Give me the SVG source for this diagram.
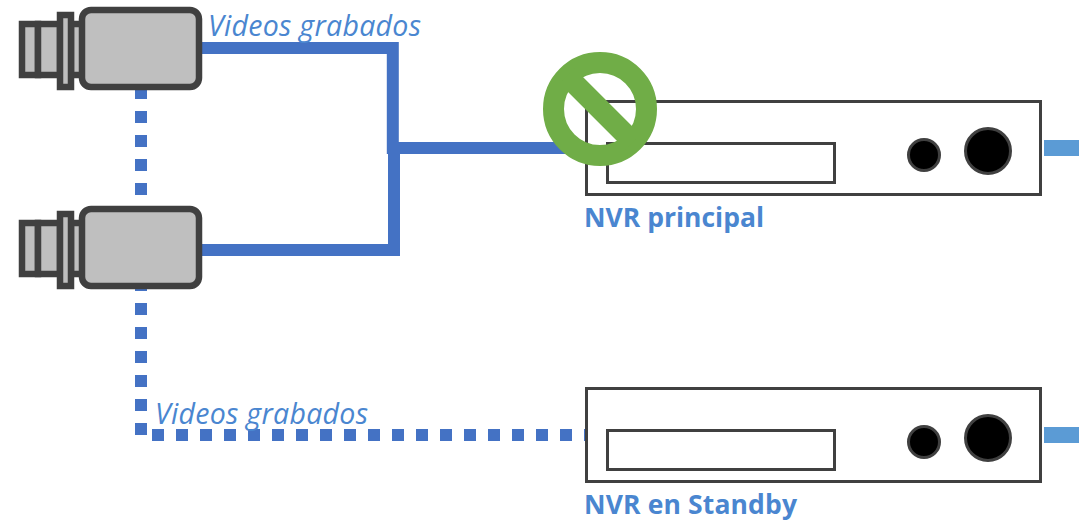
<svg xmlns="http://www.w3.org/2000/svg" width="1079" height="520" viewBox="0 0 1079 520">
<style>
.cam{fill:#bfbfbf;stroke:#404040;stroke-width:6.5}
.nvr{fill:#fff;stroke:#404040;stroke-width:3}
.knob{fill:#000;stroke:#404040;stroke-width:3}
.solid{fill:none;stroke:#4472c4;stroke-width:12}
.dot{fill:none;stroke:#4472c4;stroke-width:12;stroke-dasharray:12 12}
.out{fill:#5b9bd5}
.lbl{font-family:"Open Sans","Noto Sans",sans-serif;font-style:italic;font-size:28.500px;fill:#4a86d0}
.name{font-family:"Open Sans","Noto Sans",sans-serif;font-weight:700;font-size:26.500px;fill:#4a86d0}
</style>
<defs>
<g id="camera">
<rect class="cam" x="22" y="24" width="16" height="51"/>
<rect class="cam" x="38" y="24" width="22" height="51"/>
<rect class="cam" x="71" y="24" width="14" height="51"/>
<rect class="cam" x="60" y="15" width="11" height="72"/>
<rect class="cam" x="82" y="10" width="117" height="77" rx="9"/>
</g>
<g id="recorder">
<rect class="nvr" x="586.500" y="101.500" width="454" height="93"/>
<rect class="nvr" x="607.500" y="143.500" width="227" height="39"/>
<circle class="knob" cx="924" cy="155" r="15.500"/>
<circle class="knob" cx="988" cy="151" r="22.500"/>
<rect class="out" x="1044" y="140" width="35" height="16"/>
</g>
</defs>
<g id="connectors">
<path class="solid" d="M202 48H392.800V154M202 250H394V154M387 148H565"/>
<path class="dot" d="M141 87V435"/>
<path class="dot" d="M152 435H585"/>
</g>
<g id="camera-1"><use href="#camera"/></g>
<g id="camera-2"><use href="#camera" y="199"/></g>
<g id="nvr-principal"><use href="#recorder"/>
<text class="name" x="584" y="227" textLength="180">NVR principal</text></g>
<g id="nvr-standby"><use href="#recorder" y="287"/>
<text class="name" x="584" y="514" textLength="213">NVR en Standby</text></g>
<g id="prohibited">
<circle cx="600" cy="109" r="46.500" fill="none" stroke="#70ad47" stroke-width="21"/>
<path d="M567 76L633 142" fill="none" stroke="#70ad47" stroke-width="21"/>
</g>
<text class="lbl" x="208" y="36" textLength="213">Videos grabados</text>
<text class="lbl" x="155" y="424" textLength="213">Videos grabados</text>
</svg>
